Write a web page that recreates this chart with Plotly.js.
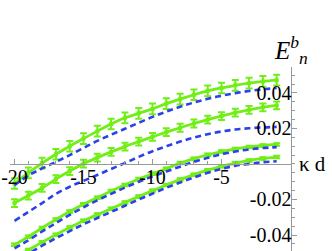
<!DOCTYPE html>
<html>
<head>
<meta charset="utf-8">
<script src="https://cdn.plot.ly/plotly-3.0.1.min.js"></script>
<style>
  html, body { margin: 0; padding: 0; background: #fff; }
  #chart { width: 332px; height: 251px; }
</style>
</head>
<body>
<div id="chart"></div>
<script>
// kappa d sample points
var kd = [-20, -19, -18, -17, -16, -15, -14, -13, -12, -11, -10, -9, -8, -7, -6, -5, -4, -3, -2, -1];

// simulated levels (green, with error bars)
var simA = [-0.0110, -0.0050, 0.0005, 0.0055, 0.0100, 0.0143, 0.0185, 0.0225, 0.0260, 0.0285, 0.0310, 0.0340, 0.0365, 0.0390, 0.0412, 0.0428, 0.0443, 0.0455, 0.0465, 0.0472];
var simB = [-0.0220, -0.0178, -0.0135, -0.0085, -0.0040, 0.0002, 0.0036, 0.0068, 0.0098, 0.0126, 0.0153, 0.0179, 0.0204, 0.0228, 0.0250, 0.0270, 0.0289, 0.0305, 0.0319, 0.0330];
var simC = [-0.0455, -0.0410, -0.0360, -0.0313, -0.0268, -0.0227, -0.0190, -0.0152, -0.0118, -0.0085, -0.0055, -0.0027, 0.0005, 0.0030, 0.0052, 0.0070, 0.0085, 0.0096, 0.0104, 0.0110];
var simD = [-0.0530, -0.0485, -0.0440, -0.0398, -0.0358, -0.0320, -0.0285, -0.0252, -0.0217, -0.0183, -0.0150, -0.0118, -0.0088, -0.0060, -0.0035, -0.0013, 0.0005, 0.0020, 0.0031, 0.0039];
var errA = 0.003, errB = 0.0022, errC = 0.0007, errD = 0.0007;

// analytic levels (blue dashed)
var thA = [-0.0120, -0.0065, -0.0025, 0.0012, 0.0050, 0.0090, 0.0130, 0.0165, 0.0198, 0.0232, 0.0265, 0.0295, 0.0322, 0.0346, 0.0367, 0.0384, 0.0399, 0.0411, 0.0420, 0.0428];
var thB = [-0.0320, -0.0270, -0.0220, -0.0168, -0.0128, -0.0095, -0.0062, -0.0028, 0.0005, 0.0040, 0.0072, 0.0100, 0.0126, 0.0149, 0.0168, 0.0183, 0.0194, 0.0201, 0.0206, 0.0209];
var thC = [-0.0475, -0.0430, -0.0380, -0.0333, -0.0286, -0.0244, -0.0205, -0.0168, -0.0133, -0.0100, -0.0070, -0.0042, -0.0015, 0.0012, 0.0035, 0.0055, 0.0070, 0.0082, 0.0090, 0.0095];
var thD = [-0.0550, -0.0505, -0.0460, -0.0418, -0.0378, -0.0340, -0.0304, -0.0270, -0.0235, -0.0200, -0.0167, -0.0134, -0.0104, -0.0076, -0.0050, -0.0028, -0.0010, 0.0000, 0.0010, 0.0015];

var xTicks = [-20, -15, -10, -5];
var xTickText = ['-20', '-15', '-10', '-5'];
var yTicks = [-0.04, -0.02, 0.02, 0.04];
var yTickText = ['-0.04', '-0.02', '0.02', '0.04'];

var green = 'rgb(112,238,22)';
var blue = 'rgb(42,66,232)';
var serif = '"Liberation Serif", "DejaVu Serif", serif';
var axisGray = '#999';

function sim(y, e) {
    return {
        x: kd, y: y,
        mode: 'lines+markers', type: 'scatter',
        line: { color: green, width: 2.8, shape: 'spline' },
        marker: { color: green, size: 4, symbol: 'square' },
        error_y: { type: 'constant', value: e, color: green, thickness: 2, width: 3.5 }
    };
}
// theory curves live on x2 (same scale) so that axis gets drawn, and sit on top
function th(y) {
    return {
        x: kd, y: y, xaxis: 'x2',
        mode: 'lines', type: 'scatter',
        line: { color: blue, width: 2.6, dash: '6px,4px', shape: 'spline' }
    };
}

var data = [
    sim(simA, errA), sim(simB, errB), sim(simC, errC), sim(simD, errD),
    th(thA), th(thB), th(thC), th(thD)
];

var xDomain = [0.0313, 0.875];
var xRange = [-20.3, 0];

Plotly.newPlot('chart', data, {
    width: 332, height: 251,
    margin: { l: 0, r: 0, t: 0, b: 0 },
    paper_bgcolor: '#fff', plot_bgcolor: 'rgba(0,0,0,0)',
    showlegend: false,
    font: { family: serif, size: 20, color: '#000' },
    // labels only, lifted a little so they sit close under the axis line
    xaxis: {
        domain: xDomain, range: xRange,
        anchor: 'free', position: 0.352,
        showgrid: false, zeroline: false, showline: false,
        tickmode: 'array', tickvals: xTicks, ticktext: xTickText,
        ticks: '',
        tickfont: { family: serif, size: 20, color: '#000' }
    },
    // the visible axis line and ticks at y = 0
    xaxis2: {
        domain: xDomain, range: xRange, overlaying: 'x',
        anchor: 'free', position: 0.3466, side: 'bottom',
        showgrid: false, zeroline: false,
        showline: true, linecolor: axisGray, linewidth: 1,
        tickmode: 'array', tickvals: xTicks, showticklabels: false,
        ticks: 'inside', ticklen: 5, tickcolor: axisGray,
        minor: { dtick: 1, tick0: 0, ticks: 'inside', ticklen: 3, tickcolor: axisGray }
    },
    yaxis: {
        domain: [0, 0.733],
        range: [-0.049, 0.0546],
        anchor: 'x', side: 'right',
        showgrid: false, zeroline: false,
        showline: true, linecolor: axisGray, linewidth: 1,
        tickmode: 'array', tickvals: yTicks, ticktext: yTickText,
        ticks: 'outside', ticklen: 5, tickcolor: axisGray,
        ticklabelposition: 'inside',
        minor: { dtick: 0.005, tick0: 0, ticks: 'outside', ticklen: 3, tickcolor: axisGray },
        tickfont: { family: serif, size: 20, color: '#000' }
    },
    annotations: [
        {
            xref: 'paper', yref: 'paper', x: 0.895, y: 0.3466,
            xanchor: 'left', yanchor: 'middle', showarrow: false,
            text: 'κ d', font: { family: serif, size: 21, color: '#000' }
        },
        {
            xref: 'paper', yref: 'paper', x: 0.875, y: 0.80,
            xanchor: 'center', yanchor: 'middle', showarrow: false,
            text: '<i>E</i><sup><i>b</i></sup><sub><i>n</i></sub>',
            font: { family: serif, size: 25, color: '#000' }
        }
    ]
}, { staticPlot: true });
</script>
</body>
</html>
